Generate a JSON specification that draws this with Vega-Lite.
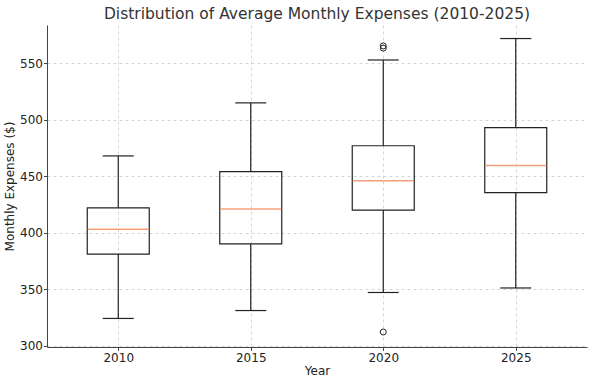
{
  "$schema": "https://vega.github.io/schema/vega-lite/v6.json",
  "width": 540,
  "height": 322,
  "autosize": {"type": "none"},
  "padding": {"left": 47, "top": 25, "right": 11, "bottom": 37},
  "background": "white",
  "title": {
    "text": "Distribution of Average Monthly Expenses (2010-2025)",
    "font": "DejaVu Sans",
    "fontSize": 15.5,
    "fontWeight": "normal",
    "color": "#333333",
    "offset": 3
  },
  "config": {
    "view": {"stroke": null},
    "axis": {
      "labelFont": "DejaVu Sans",
      "titleFont": "DejaVu Sans",
      "labelFontSize": 12,
      "titleFontSize": 12,
      "titleFontWeight": "normal",
      "labelColor": "#222222",
      "titleColor": "#222222",
      "domainColor": "#444444",
      "tickColor": "#444444",
      "tickSize": 3.5,
      "gridColor": "#cccccc",
      "gridDash": [3, 3],
      "gridWidth": 0.8
    }
  },
  "datasets": {
    "boxes": [
      {"year": 2010, "lower": 324, "q1": 381, "median": 403, "q3": 422, "upper": 468},
      {"year": 2015, "lower": 331, "q1": 390, "median": 421, "q3": 454, "upper": 515},
      {"year": 2020, "lower": 347, "q1": 420, "median": 446, "q3": 477, "upper": 553},
      {"year": 2025, "lower": 351, "q1": 435.5, "median": 459.5, "q3": 493, "upper": 572}
    ],
    "outliers": [
      {"year": 2020, "value": 565.5},
      {"year": 2020, "value": 563.5},
      {"year": 2020, "value": 312}
    ]
  },
  "layer": [
    {
      "data": {"name": "boxes"},
      "mark": {"type": "rule", "color": "#222222", "strokeWidth": 1.2},
      "encoding": {
        "x": {
          "field": "year",
          "type": "quantitative",
          "scale": {"domain": [2007.5, 2027.5], "nice": false, "zero": false},
          "axis": {"values": [2010, 2015, 2020, 2025], "format": "d", "title": "Year", "grid": true, "labelPadding": 2, "titlePadding": 2}
        },
        "y": {
          "field": "lower",
          "type": "quantitative",
          "scale": {"domain": [298.7, 584], "nice": false, "zero": false},
          "axis": {"values": [300, 350, 400, 450, 500, 550], "title": "Monthly Expenses ($)", "grid": true, "labelPadding": 1, "titlePadding": 3}
        },
        "y2": {"field": "q1"}
      }
    },
    {
      "data": {"name": "boxes"},
      "mark": {"type": "rule", "color": "#222222", "strokeWidth": 1.2},
      "encoding": {
        "x": {"field": "year", "type": "quantitative"},
        "y": {"field": "q3", "type": "quantitative"},
        "y2": {"field": "upper"}
      }
    },
    {
      "data": {"name": "boxes"},
      "mark": {"type": "bar", "size": 62, "fill": null, "fillOpacity": 0, "stroke": "#222222", "strokeWidth": 1.2},
      "encoding": {
        "x": {"field": "year", "type": "quantitative"},
        "y": {"field": "q1", "type": "quantitative"},
        "y2": {"field": "q3"}
      }
    },
    {
      "data": {"name": "boxes"},
      "mark": {"type": "tick", "orient": "horizontal", "size": 61, "thickness": 1.5, "color": "#f4a07a", "opacity": 1},
      "encoding": {
        "x": {"field": "year", "type": "quantitative"},
        "y": {"field": "median", "type": "quantitative"}
      }
    },
    {
      "data": {"name": "boxes"},
      "mark": {"type": "tick", "orient": "horizontal", "size": 31, "thickness": 1.2, "color": "#222222", "opacity": 1},
      "encoding": {
        "x": {"field": "year", "type": "quantitative"},
        "y": {"field": "lower", "type": "quantitative"}
      }
    },
    {
      "data": {"name": "boxes"},
      "mark": {"type": "tick", "orient": "horizontal", "size": 31, "thickness": 1.2, "color": "#222222", "opacity": 1},
      "encoding": {
        "x": {"field": "year", "type": "quantitative"},
        "y": {"field": "upper", "type": "quantitative"}
      }
    },
    {
      "data": {"name": "outliers"},
      "mark": {"type": "point", "shape": "circle", "filled": false, "size": 36, "stroke": "#222222", "strokeWidth": 1, "opacity": 1},
      "encoding": {
        "x": {"field": "year", "type": "quantitative"},
        "y": {"field": "value", "type": "quantitative"}
      }
    }
  ]
}
